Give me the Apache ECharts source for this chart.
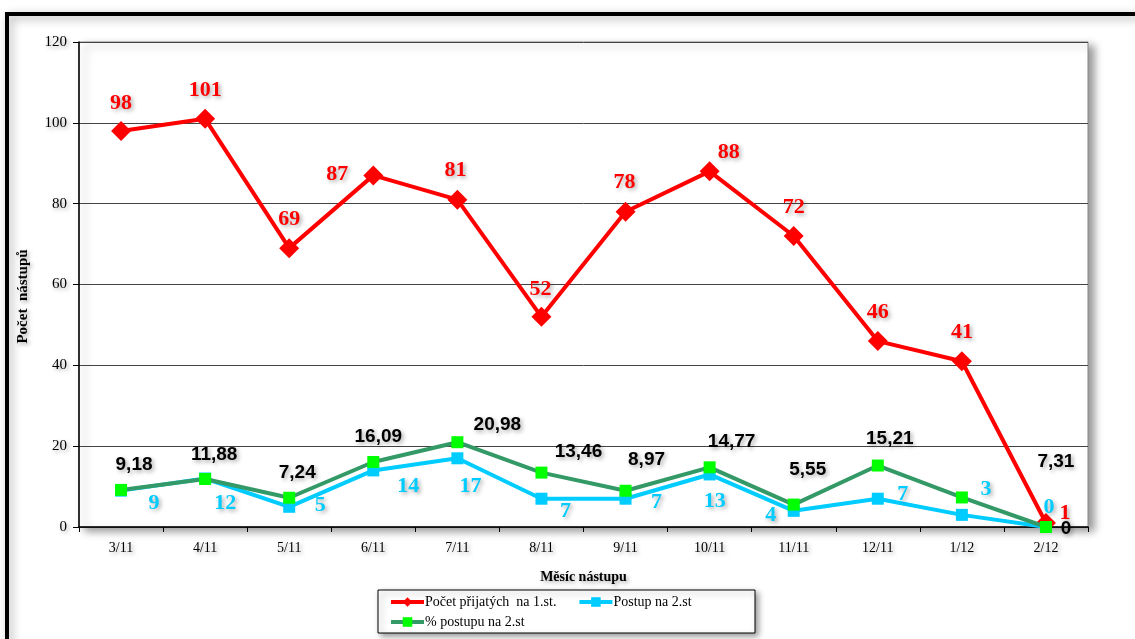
<!DOCTYPE html>
<html>
<head>
<meta charset="utf-8">
<script src="https://cdn.jsdelivr.net/npm/echarts@6/dist/echarts.min.js"></script>
<style>
  html, body { margin: 0; padding: 0; background: #fff; }
  #chart { width: 1135px; height: 639px; }
</style>
</head>
<body>
<div id="chart"></div>
<script>
// data
const months = ['3/11', '4/11', '5/11', '6/11', '7/11', '8/11', '9/11', '10/11', '11/11', '12/11', '1/12', '2/12']
const prijati = [98, 101, 69, 87, 81, 52, 78, 88, 72, 46, 41, 1]
const postup = [9, 12, 5, 14, 17, 7, 7, 13, 4, 7, 3, 0]
const procento = [9.18, 11.88, 7.24, 16.09, 20.98, 13.46, 8.97, 14.77, 5.55, 15.21, 7.31, 0]
const yTicks = [0, 20, 40, 60, 80, 100, 120]

// label placement (px from the point)
const redOffsets = [[0, -28], [0, -28], [0, -29], [-36, -1], [-2, -29], [-1, -28], [-1, -29], [19, -19], [0, -29], [0, -29], [0, -29], [19, -10]]
const cyanOffsets = [[33, 13], [20, 25], [31, -1], [35, 16], [13, 28], [24, 13], [31, 4], [5, 27], [-23, 4], [25, -4], [24, -26], [3, -20]]
const greenOffsets = [[13, -25], [9, -24], [8, -25], [5, -25], [40, -17], [37, -21], [21, -31], [22, -26], [14, -35], [12, -27], [94, -36], [20, 2]]

const shadowText = {
  textShadowColor: 'rgba(0,0,0,0.35)',
  textShadowBlur: 4,
  textShadowOffsetX: 2,
  textShadowOffsetY: 2
}

function withLabels(values, offsets, fmt) {
  return values.map((v, i) => ({
    value: v,
    label: { offset: offsets[i], formatter: fmt ? fmt(v) : String(v) }
  }))
}

const chart = echarts.init(document.getElementById('chart'))

const legendText = { fontFamily: 'Liberation Serif', fontSize: 14, color: '#000', padding: [0, 0, 0, -4] }

const option = {
  animation: false,
  backgroundColor: '#fff',
  graphic: [
    {
      type: 'rect',
      z: 0,
      shape: { x: 7, y: 14, width: 1160, height: 680 },
      style: {
        fill: 'none',
        stroke: '#000',
        lineWidth: 4,
        shadowBlur: 10,
        shadowColor: 'rgba(0,0,0,0.35)',
        shadowOffsetX: 3,
        shadowOffsetY: 3
      }
    },
    {
      type: 'rect',
      z: 0,
      shape: { x: 378, y: 590, width: 377, height: 43 },
      style: {
        fill: '#fff',
        stroke: '#000',
        lineWidth: 1,
        shadowBlur: 6,
        shadowColor: 'rgba(0,0,0,0.4)',
        shadowOffsetX: 3,
        shadowOffsetY: 3
      }
    }
  ],
  grid: {
    left: 79,
    right: 47,
    top: 42,
    bottom: 112,
    show: true,
    backgroundColor: '#fff',
    borderColor: '#888',
    borderWidth: 1,
    shadowColor: 'rgba(0,0,0,0.4)',
    shadowBlur: 8,
    shadowOffsetX: 6,
    shadowOffsetY: 4
  },
  legend: [
    {
      left: 389,
      top: 595,
      itemWidth: 33,
      itemHeight: 12,
      itemGap: 21,
      padding: 0,
      lineStyle: { width: 4 },
      data: ['Počet přijatých  na 1.st.', 'Postup na 2.st'],
      textStyle: legendText
    },
    {
      left: 389,
      top: 615,
      itemWidth: 33,
      itemHeight: 12,
      padding: 0,
      lineStyle: { width: 4 },
      data: ['% postupu na 2.st'],
      textStyle: legendText
    }
  ],
  xAxis: {
    type: 'category',
    data: months,
    boundaryGap: true,
    name: 'Měsíc nástupu',
    nameLocation: 'middle',
    nameGap: 43,
    nameTextStyle: Object.assign({ fontFamily: 'Liberation Serif', fontWeight: 'bold', fontSize: 14, color: '#000' }, shadowText),
    axisLine: { lineStyle: { color: '#000', width: 1.5 } },
    axisTick: { show: true, length: 5, lineStyle: { color: '#000' } },
    axisLabel: Object.assign({ fontFamily: 'Liberation Serif', fontSize: 14, color: '#000', margin: 14 }, shadowText),
    splitLine: { show: false }
  },
  yAxis: {
    type: 'value',
    min: yTicks[0],
    max: yTicks[yTicks.length - 1],
    interval: yTicks[1] - yTicks[0],
    name: 'Počet  nástupů',
    nameLocation: 'middle',
    nameRotate: 90,
    nameGap: 48,
    nameTextStyle: Object.assign({ fontFamily: 'Liberation Serif', fontWeight: 'bold', fontSize: 15, color: '#000', padding: [0, 24, 0, 0] }, shadowText),
    axisLine: { show: true, lineStyle: { color: '#000', width: 1.5 } },
    axisTick: { show: true, length: 6, lineStyle: { color: '#000' } },
    axisLabel: Object.assign({ fontFamily: 'Liberation Serif', fontSize: 15, color: '#000', margin: 12 }, shadowText),
    splitLine: { show: true, lineStyle: { color: '#444', width: 1 } }
  },
  series: [
    {
      name: 'Počet přijatých  na 1.st.',
      type: 'line',
      data: withLabels(prijati, redOffsets),
      symbol: 'diamond',
      symbolSize: 20,
      lineStyle: { color: '#ff0000', width: 4 },
      itemStyle: { color: '#ff0000' },
      z: 3,
      label: Object.assign({
        show: true,
        position: 'inside',
        fontFamily: 'Liberation Serif',
        fontWeight: 'bold',
        fontSize: 22,
        color: '#ff0000'
      }, shadowText)
    },
    {
      name: 'Postup na 2.st',
      type: 'line',
      data: withLabels(postup, cyanOffsets),
      symbol: 'rect',
      symbolSize: 12,
      lineStyle: { color: '#00ccff', width: 4 },
      itemStyle: { color: '#00ccff' },
      z: 4,
      label: Object.assign({
        show: true,
        position: 'inside',
        fontFamily: 'Liberation Serif',
        fontWeight: 'bold',
        fontSize: 22,
        color: '#00ccff'
      }, shadowText)
    },
    {
      name: '% postupu na 2.st',
      type: 'line',
      data: withLabels(procento, greenOffsets, v => v === 0 ? '0' : v.toFixed(2).replace('.', ',')),
      symbol: 'rect',
      symbolSize: 12,
      lineStyle: { color: '#339966', width: 4 },
      itemStyle: { color: '#00ff00' },
      z: 5,
      label: Object.assign({
        show: true,
        position: 'inside',
        fontFamily: 'Liberation Sans',
        fontWeight: 'bold',
        fontSize: 19,
        color: '#000'
      }, shadowText)
    }
  ]
}

chart.setOption(option)
</script>
</body>
</html>
